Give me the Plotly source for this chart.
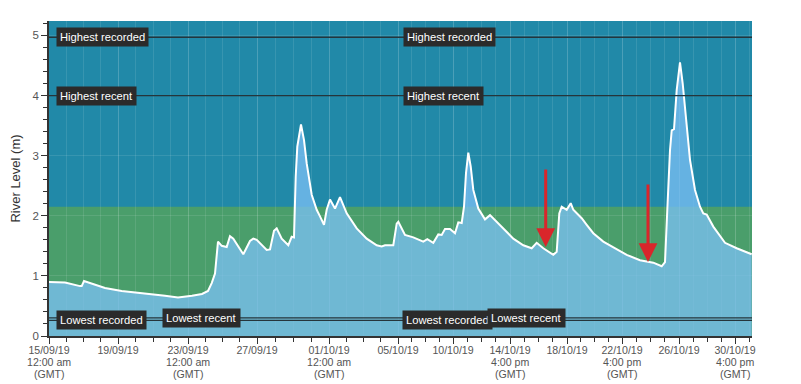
import numpy as np
import plotly.graph_objects as go

# ---- data (x = position along the time axis, y = river level in m) ----
pos = [0, 16, 31, 32.7, 35, 41, 56, 72.7, 96, 116, 129, 136, 143, 153, 159, 162.7, 166,
       169, 172.7, 177.7, 181, 184.3, 194.3, 201, 204.3, 207.7, 217.7, 221, 225, 227.7,
       232.7, 239.3, 242.7, 245, 246.7, 248.3, 252, 255, 257.7, 262.7, 267.7, 271, 275,
       277.7, 281, 286, 291, 297.7, 307.7, 317.7, 327.7, 332.7, 336, 344.3, 347.7, 349.3,
       356, 364.3, 374.3, 378.3, 384.3, 389.3, 392.7, 396, 401, 406, 409.3, 412.7, 415,
       417, 419.3, 421.7, 424.3, 429.3, 436, 441, 446, 454.3, 464.3, 474.3, 482.7, 487.7,
       494.3, 504.3, 507.7, 510.3, 512.7, 517.7, 521.7, 524.3, 532.7, 537.7, 544.3, 554.3,
       564.3, 577.7, 591, 604.3, 612.7, 616, 618.3, 621, 622.7, 625, 627.7, 631, 633.7,
       637, 641, 646, 651, 654.3, 657.7, 664.3, 676, 687.7, 697.7, 702.7]
level = [0.90, 0.89, 0.83, 0.83, 0.915, 0.88, 0.80, 0.75, 0.71, 0.67, 0.64, 0.65, 0.67,
         0.70, 0.75, 0.88, 1.04, 1.57, 1.50, 1.48, 1.66, 1.62, 1.36, 1.58, 1.62, 1.60,
         1.43, 1.44, 1.75, 1.79, 1.62, 1.51, 1.65, 1.64, 2.65, 3.15, 3.52, 3.26, 2.87,
         2.35, 2.10, 1.99, 1.85, 2.10, 2.27, 2.12, 2.31, 2.04, 1.79, 1.62, 1.51, 1.49,
         1.51, 1.51, 1.87, 1.90, 1.68, 1.64, 1.57, 1.61, 1.55, 1.69, 1.68, 1.78, 1.78,
         1.71, 1.89, 1.88, 2.15, 2.71, 3.05, 2.82, 2.43, 2.12, 1.94, 2.01, 1.93, 1.79,
         1.62, 1.51, 1.46, 1.55, 1.46, 1.35, 1.40, 2.04, 2.15, 2.10, 2.21, 2.10, 1.96,
         1.85, 1.71, 1.57, 1.47, 1.35, 1.26, 1.22, 1.16, 1.23, 2.10, 3.09, 3.42, 3.44,
         4.09, 4.55, 4.20, 3.65, 2.93, 2.43, 2.15, 2.04, 2.02, 1.82, 1.55, 1.46, 1.39, 1.36]

tick_pos = [0, 69, 139, 208, 280, 349, 404, 461, 518, 573, 630, 686]
tick_dates = ["15/09/19", "19/09/19", "23/09/19", "27/09/19", "01/10/19", "05/10/19",
              "10/10/19", "14/10/19", "18/10/19", "22/10/19", "26/10/19", "30/10/19"]
tick_times = ["12:00 am", "", "12:00 am", "", "12:00 am", "", "", "4:00 pm", "",
              "4:00 pm", "", "4:00 pm"]
tz_label = "(GMT)"

typical_top = 2.15
highest_recorded = 4.97
highest_recent = 4.0
lowest_recent = 0.30
lowest_recorded = 0.26

ref_names = ["Highest recorded", "Highest recent", "Lowest recorded", "Lowest recent"]
ref_values = [highest_recorded, highest_recent, lowest_recorded, lowest_recent]
label_x = [[7, 354], [7, 354], [7, 353], [113, 438]]

arrow_x = [496.7, 599]
arrow_y = [1.48, 1.23]

X_MAX = 703
Y_MAX = 5.24
TICK_FONT = dict(size=10.6, color="#555", family="Arial, Liberation Sans")

# minor ticks: quarter divisions between labelled ticks
minor = []
for a, b in zip(tick_pos[:-1], tick_pos[1:]):
    minor += list(np.linspace(a, b, 5)[:-1])
minor += [tick_pos[-1], tick_pos[-1] + 14]

fig = go.Figure()
fig.add_trace(go.Scatter(
    x=pos, y=level, mode="lines",
    line=dict(color="white", width=2),
    fill="tozeroy", fillcolor="rgba(124,192,246,0.75)",
    hoverinfo="skip", showlegend=False))

shapes = [
    dict(type="rect", xref="paper", yref="y", x0=0, x1=1, y0=typical_top, y1=Y_MAX,
         fillcolor="#2189a8", line=dict(width=0), layer="below"),
    dict(type="rect", xref="paper", yref="y", x0=0, x1=1, y0=0, y1=typical_top,
         fillcolor="#4a9e6b", line=dict(width=0), layer="below"),
]
for v in ref_values:
    shapes.append(dict(type="line", xref="paper", yref="y", x0=0, x1=1, y0=v, y1=v,
                       line=dict(color="#25353b", width=1.3), layer="above"))

annotations = []
for name, v, xs in zip(ref_names, ref_values, label_x):
    for xv in xs:
        annotations.append(dict(
            x=xv, y=v, xref="x", yref="y", text=name, showarrow=False,
            xanchor="left", yanchor="middle", bgcolor="#2b2b2b", borderpad=3,
            font=dict(color="white", size=11.2, family="Arial, Liberation Sans")))
for xa, ya in zip(arrow_x, arrow_y):
    annotations.append(dict(
        x=xa, y=ya, xref="x", yref="y", text="", showarrow=True,
        ax=0, ay=-79, arrowhead=2, arrowwidth=3, arrowsize=1.25,
        arrowcolor="#d9262b"))
# second and third lines of the labelled ticks
for xv, t in zip(tick_pos, tick_times):
    if t:
        for txt, shift in ((t, -26), (tz_label, -38)):
            annotations.append(dict(
                x=xv, y=0, xref="x", yref="paper", text=txt, showarrow=False,
                xanchor="center", yanchor="middle", yshift=shift, borderpad=0,
                font=TICK_FONT))

# the page adds an 8px body margin, so the figure is offset by 8px
fig.update_layout(
    width=793, height=376,
    margin=dict(l=41, r=49, t=13, b=48, autoexpand=False),
    paper_bgcolor="white", plot_bgcolor="#2189a8",
    font=dict(family="Arial, Liberation Sans", color="#444"),
    shapes=shapes, annotations=annotations,
    xaxis=dict(range=[0, X_MAX], tickmode="array", tickvals=tick_pos, ticktext=tick_dates,
               automargin=False, ticklabelstandoff=-2,
               ticks="outside", ticklen=6, tickcolor="#333", tickfont=TICK_FONT,
               showline=True, linecolor="#333", linewidth=1.5, zeroline=False,
               showgrid=True, gridcolor="rgba(255,255,255,0.10)",
               minor=dict(tickmode="array", tickvals=minor, ticks="outside", ticklen=4,
                          tickcolor="#333", showgrid=True,
                          gridcolor="rgba(255,255,255,0.10)")),
    yaxis=dict(range=[0, Y_MAX], tickvals=[0, 1, 2, 3, 4, 5], ticks="outside", ticklen=6,
               automargin=False,
               tickcolor="#333", tickfont=dict(size=11.5, color="#555"),
               showline=True, linecolor="#333", linewidth=1.5, zeroline=False,
               showgrid=True, gridcolor="rgba(255,255,255,0.10)",
               title=dict(text="River Level (m)", font=dict(size=13, color="#333"), standoff=10),
               minor=dict(dtick=0.2, ticks="outside", ticklen=4, tickcolor="#333",
                          showgrid=False)),
)

fig.write_html("out.html")
